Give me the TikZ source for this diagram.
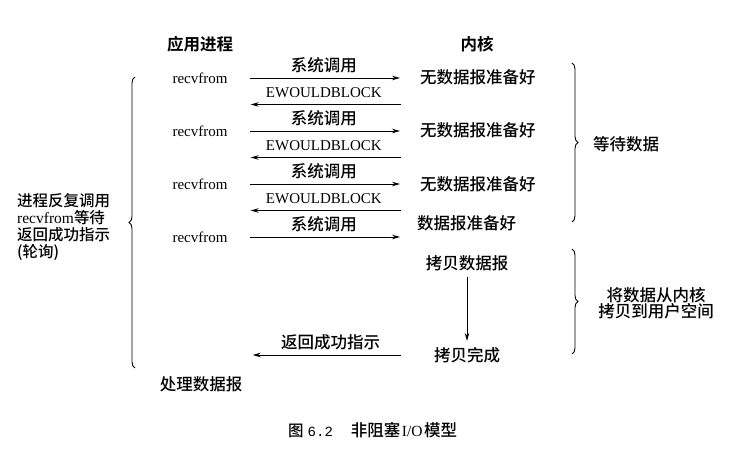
\documentclass[tikz,border=0pt]{standalone}
\usepackage{fontspec}
\setmainfont{Liberation Serif}
\newfontfamily\cjk{Noto Sans CJK SC Medium}
\newfontfamily\cjkbf{Noto Sans CJK SC Bold}
\newfontfamily\mono{Liberation Mono}
\usetikzlibrary{calc, positioning}
\usetikzlibrary{arrows.meta}
\usetikzlibrary{decorations.pathreplacing}

\begin{document}
\begin{tikzpicture}[x=1pt, y=-1pt,
  zh/.style={font=\fontsize{16.5}{17}\selectfont\cjk, inner sep=2pt},
  en/.style={font=\fontsize{15}{17}\selectfont, inner sep=2pt},
  head/.style={font=\fontsize{16.5}{17}\selectfont\cjkbf, inner sep=2pt},
  sys/.style={-{Stealth[length=8pt, width=4.5pt]}, line width=0.9pt},
  brace/.style={decorate, decoration={brace, amplitude=6pt}, line width=0.9pt}]
\useasboundingbox (0,0) rectangle (756,457);
% column headings
\node[head] (proc) at (200,44) {应用进程};
\node[head] (kern) at (477,44) {内核};
% process side
\node[en] (r1) at (200,78) {recvfrom};
\node[en] (r2) at (200,131) {recvfrom};
\node[en] (r3) at (200,184) {recvfrom};
\node[en] (r4) at (200,237) {recvfrom};
\node[zh] (done) at (201,384) {处理数据报};
% kernel side
\node[zh, anchor=west] (k1) at (418,77) {无数据报准备好};
\node[zh, anchor=west] (k2) at (418,130) {无数据报准备好};
\node[zh, anchor=west] (k3) at (418,184) {无数据报准备好};
\node[zh, anchor=west] (k4) at (415,223) {数据报准备好};
\node[zh] (cp) at (467,263) {拷贝数据报};
\node[zh] (cpok) at (467,355) {拷贝完成};

% system calls
\foreach \i in {1,...,4}
  \draw[sys, shorten <=20pt, shorten >=18pt] (r\i.east) -- node[zh, above=3pt] {系统调用} (r\i.east -| k1.west);
% no data yet
\foreach \i/\j in {1/2, 2/3, 3/4} {
  \coordinate (m\i) at ($(r\i)!.5!(r\j)$);
  \draw[sys, shorten <=17pt, shorten >=21pt] (m\i -| k1.west) -- node[en, above=4pt] {EWOULDBLOCK} (m\i -| r1.east);
}
% copy to user space
\draw[sys, shorten <=4pt, shorten >=4pt] (cp) -- (cpok);
\draw[sys, shorten <=31pt, shorten >=23pt] (cpok.west) -- node[zh, above=3pt] {返回成功指示} (cpok.west -| r4.east);

% braces
\draw[brace] (572,63) -- (572,222);
\node[zh] (wait) at (626,144) {等待数据};
\draw[brace] (572,249) -- (572,354);
\node[zh, align=center, font=\fontsize{16.5}{16}\selectfont\cjk] (copy) at (656,303) {将数据从内核\\拷贝到用户空间};
\draw[brace] (135,368) -- (135,77);
\node[zh, align=left, anchor=west, font=\fontsize{15.5}{17}\selectfont\cjk] (poll) at (15,227)
  {进程反复调用\\{\rmfamily recvfrom}等待\\返回成功指示\\(轮询)};

\node[anchor=west, font=\fontsize{15.5}{16}\selectfont, inner sep=2pt] (cap) at (286,430)
  {{\cjk\fontsize{15.5}{16}\selectfont 图}\hspace{4pt}{\mono\fontsize{14}{16}\selectfont 6.2}\hspace{18pt}{\cjk\fontsize{16.5}{16}\selectfont 非阻塞}\hspace{1.5pt}I/O\hspace{1.5pt}{\cjk\fontsize{16.5}{16}\selectfont 模型}};
\end{tikzpicture}
\end{document}
